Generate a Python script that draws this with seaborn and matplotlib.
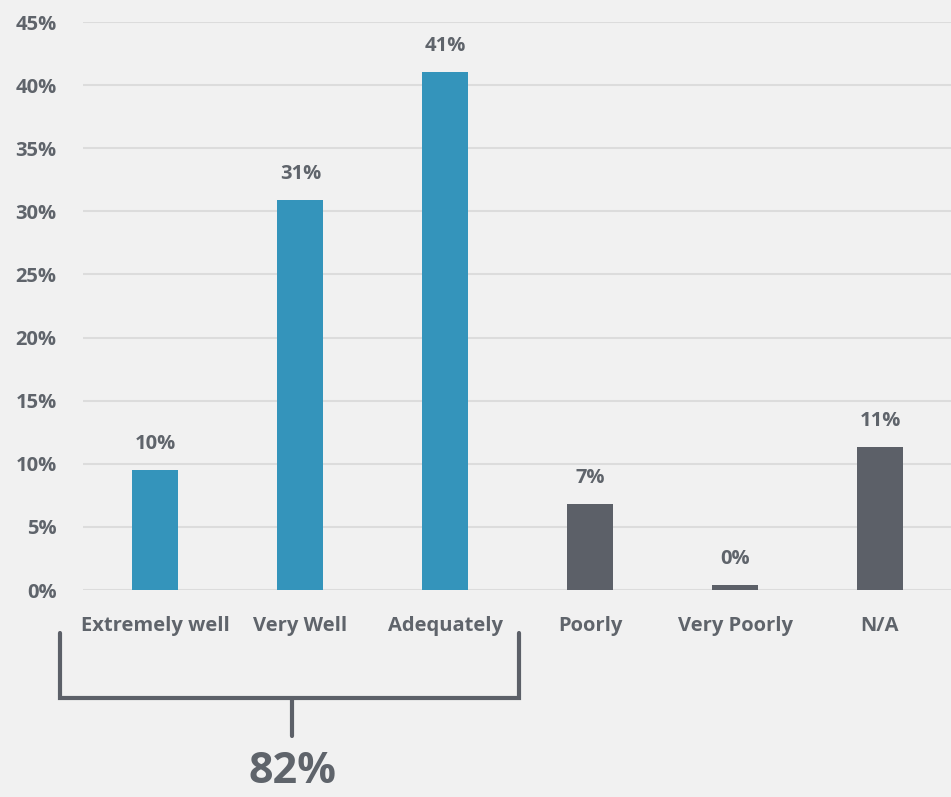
import matplotlib
matplotlib.use("Agg")
import matplotlib.pyplot as plt
import seaborn as sns
import pandas as pd
from matplotlib import font_manager

# Survey responses (percent of respondents)
categories = ["Extremely well", "Very Well", "Adequately", "Poorly", "Very Poorly", "N/A"]
values = [9.5, 30.9, 41.0, 6.8, 0.4, 11.3]
groups = ["positive", "positive", "positive", "negative", "negative", "negative"]
yticks = [0, 5, 10, 15, 20, 25, 30, 35, 40, 45]
combined_label = "82%"

BG = "#f1f1f1"
BLUE = "#3494bb"
GRAY = "#5c6068"
TEXT = "#5f646b"
GRID = "#dcdcdc"

sns.set_theme(style="white")
available = {f.name for f in font_manager.fontManager.ttflist}
family = [f for f in ["Liberation Sans Narrow", "Open Sans", "DejaVu Sans"] if f in available]
plt.rcParams["font.family"] = family

df = pd.DataFrame({"category": categories, "value": values, "group": groups})

fig = plt.figure(figsize=(9.51, 7.97), dpi=100, facecolor=BG)
ax = fig.add_axes([83 / 951, 207 / 797, 1 - 83 / 951, (590 - 22) / 797])
ax.set_facecolor(BG)

sns.barplot(data=df, x="category", y="value", hue="group",
            palette={"positive": BLUE, "negative": GRAY},
            width=0.317, dodge=False, legend=False, ax=ax, saturation=1,
            linewidth=0)

ax.set_xlim(-0.5, 5.49)
ax.set_ylim(0, 45)
ax.set_yticks(yticks)
ax.set_yticklabels([f"{t}%" for t in yticks])
for y in yticks:
    ax.axhline(y, color=GRID, lw=1.5, zorder=0)
ax.set_axisbelow(True)

for s in ax.spines.values():
    s.set_visible(False)
ax.set_xlabel("")
ax.set_ylabel("")
ax.tick_params(axis="y", length=0, pad=19, labelsize=14.5, labelcolor=TEXT)
ax.tick_params(axis="x", length=0, pad=19, labelsize=14.5, labelcolor=TEXT)
for lab in ax.get_yticklabels() + ax.get_xticklabels():
    lab.set_fontweight("bold")

# Value labels above each bar
for i, v in enumerate(values):
    ax.text(i, v + 1.3, f"{round(v):.0f}%", ha="center", va="bottom",
            fontsize=14.5, fontweight="bold", color=TEXT)

# Bracket grouping the three positive answers
lw = 3
xl, xr, xc = -0.662, 2.51, 0.945
ax.plot([xl, xl, xr, xr], [-3.4, -8.55, -8.55, -3.4], color=GRAY, lw=lw,
        clip_on=False, solid_joinstyle="miter")
ax.plot([xc, xc], [-8.55, -11.6], color=GRAY, lw=lw, clip_on=False)
ax.text(xc, -14.4, combined_label, ha="center", va="center", fontsize=31,
        fontweight="bold", color=TEXT, clip_on=False)

fig.savefig("out.png", dpi=100, facecolor=BG)
